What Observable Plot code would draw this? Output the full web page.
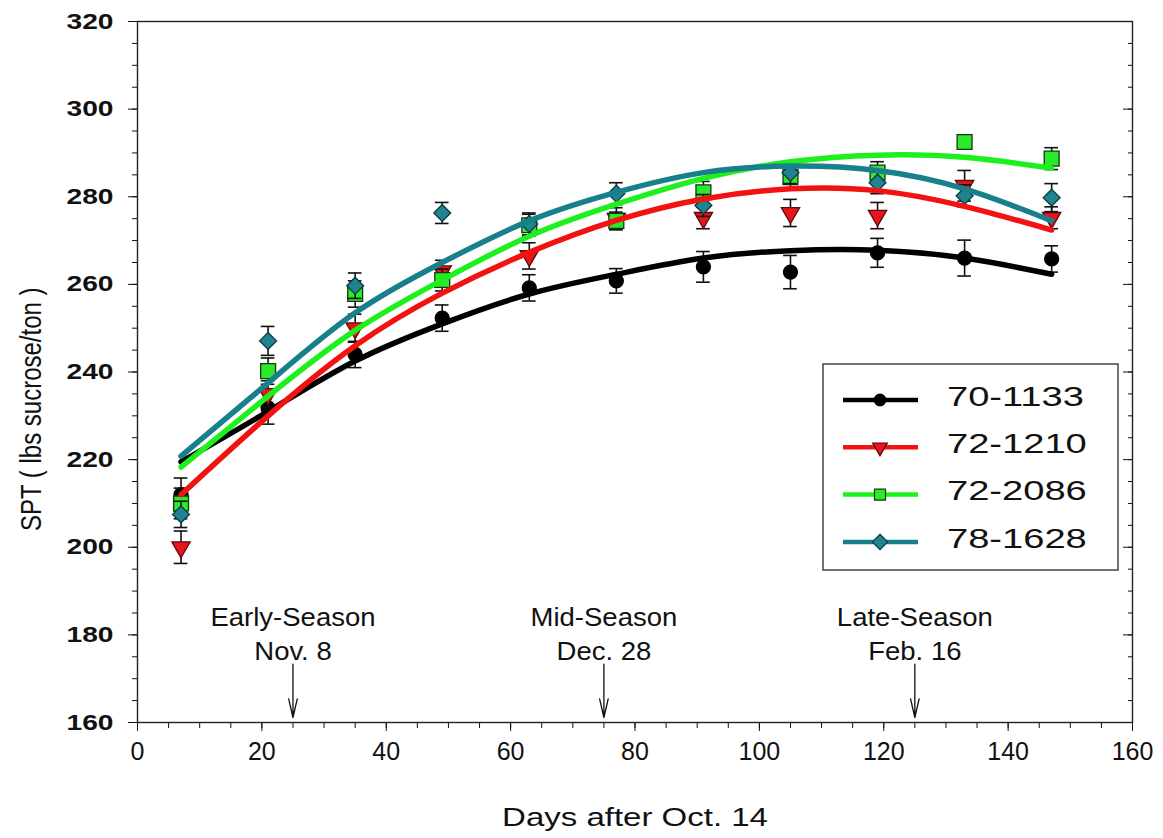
<!DOCTYPE html>
<html><head><meta charset="utf-8">
<script src="https://cdn.jsdelivr.net/npm/d3@7"></script>
<script src="https://cdn.jsdelivr.net/npm/@observablehq/plot@0.6"></script>
<style>
html,body{margin:0;padding:0;background:#fff;}
#chart{width:1163px;height:838px;}
</style></head><body><div id="chart"></div>
<script>
// ---- data ----
const days = [7, 21, 35, 49, 63, 77, 91, 105, 119, 133, 147];
const seriesNames = ["70-1133", "72-1210", "72-2086", "78-1628"];

const mean_70_1133 = [212, 231.8, 244, 252.3, 259.2, 260.8, 264, 262.8, 267.2, 266, 265.8];
const err_70_1133  = [3.8, 3.7, 3, 3, 3, 2.8, 3.5, 3.8, 3.3, 4.1, 3];
const mean_72_1210 = [200, 235, 250, 263, 266.5, 275, 275.2, 276.3, 275.7, 282.5, 275.2];
const err_72_1210  = [3.7, 3, 3.2, 2.5, 3, 2.5, 2.5, 3.1, 3, 3.5, 2.5];
const mean_72_2086 = [210, 240.2, 257.8, 261, 273.5, 274.5, 281, 284.5, 285.5, 292.5, 288.7];
const err_72_2086  = [3.5, 3, 3, 2.5, 2.5, 2, 2.5, 2.5, 2.5, 1.5, 2.5];
const mean_78_1628 = [207.5, 247.1, 259.7, 276.3, 273.8, 280.7, 278, 285.5, 283.2, 280.2, 279.8];
const err_78_1628  = [3, 3.3, 2.9, 2.4, 2.5, 2.5, 2.5, 2.5, 2.5, 2.5, 3.2];

// fitted curves, read at the same days
const fit_70_1133 = [219.5, 231, 242.5, 251, 257.8, 262.3, 266, 267.7, 267.8, 266, 262.3];
const fit_72_1210 = [212, 230, 246, 258, 267.3, 274.6, 279.5, 281.8, 281.4, 277.8, 272.4];
const fit_72_2086 = [218.3, 234.5, 249.5, 261, 271, 278.3, 284.2, 288, 289.5, 289, 286.5];
const fit_78_1628 = [220.8, 237.5, 253.5, 265, 274.5, 281, 285.5, 287, 286, 281.8, 274.5];

const xMajor = [0, 20, 40, 60, 80, 100, 120, 140, 160];
const yMajor = [160, 180, 200, 220, 240, 260, 280, 300, 320];

const seasonDays = [25, 75, 125];
const seasonNames = ["Early-Season", "Mid-Season", "Late-Season"];
const seasonDates = ["Nov. 8", "Dec. 28", "Feb. 16"];
const arrowTop = 173.3;

const xTitle = "Days after Oct. 14";
const yTitle = "SPT ( lbs sucrose/ton )";
const yTitleAt = 231.5;

// ---- styling ----
const FONT = "'Liberation Sans', Arial, Helvetica, sans-serif";
const lineColors = ["#000000", "#f21212", "#1ef01e", "#17808b"];
const markFill   = ["#000000", "#e8141a", "#2de82d", "#1f8490"];
const markStroke = ["#000000", "#5a0a0a", "#0e3a0e", "#0b3a40"];
const symbols    = ["circle", "triangle", "square", "diamond2"];
const symR       = [7, 6.8, 8.4, 7.6];
const symRot     = [0, 180, 0, 0];

const means = [mean_70_1133, mean_72_1210, mean_72_2086, mean_78_1628];
const errs  = [err_70_1133, err_72_1210, err_72_2086, err_78_1628];
const fits  = [fit_70_1133, fit_72_1210, fit_72_2086, fit_78_1628];

const pts = seriesNames.map((s, k) => days.map((d, i) => ({series: s, day: d, mean: means[k][i], err: errs[k][i]})));
const fitRows = seriesNames.map((s, k) => days.map((d, i) => ({series: s, day: d, v: fits[k][i]})));
const seasons = seasonDays.map((d, i) => ({day: d, name: seasonNames[i], date: seasonDates[i]}));

const capHalf = 1.1;
const marks = [];

// axes
marks.push(Plot.axisY({ticks: yMajor, tickSize: 9, tickPadding: 15, fontSize: 22, fontWeight: "bold", label: null}));
marks.push(Plot.axisY({ticks: d3.range(160, 321, 5), tickSize: 5, tickFormat: () => "", label: null}));
marks.push(Plot.axisY({anchor: "right", ticks: yMajor, tickSize: -10, tickFormat: () => "", label: null}));
marks.push(Plot.axisY({anchor: "right", ticks: d3.range(160, 321, 5), tickSize: -5, tickFormat: () => "", label: null}));
marks.push(Plot.axisX({ticks: xMajor, tickSize: 9, tickPadding: 11, fontSize: 25, label: null}));
marks.push(Plot.axisX({ticks: d3.range(0, 161, 5), tickSize: 6, tickFormat: () => "", label: null}));
marks.push(Plot.frame({stroke: "#222", strokeWidth: 1.4}));

// points with error bars
pts.forEach((data, k) => {
  marks.push(Plot.ruleX(data, {x: "day", y1: d => d.mean - d.err, y2: d => d.mean + d.err, stroke: "#111", strokeWidth: 1.6}));
  marks.push(Plot.ruleY(data, {y: d => d.mean + d.err, x1: d => d.day - capHalf, x2: d => d.day + capHalf, stroke: "#111", strokeWidth: 1.6}));
  marks.push(Plot.ruleY(data, {y: d => d.mean - d.err, x1: d => d.day - capHalf, x2: d => d.day + capHalf, stroke: "#111", strokeWidth: 1.6}));
  marks.push(Plot.dot(data, {x: "day", y: "mean", symbol: symbols[k], r: symR[k], rotate: symRot[k], fill: markFill[k], stroke: markStroke[k], strokeWidth: 1.3}));
});
// fitted curves
fitRows.forEach((data, k) => {
  marks.push(Plot.line(data, {x: "day", y: "v", curve: "natural", stroke: lineColors[k], strokeWidth: 5.5}));
});

// season annotations
marks.push(Plot.text(seasons, {x: "day", text: "name", frameAnchor: "bottom", lineAnchor: "middle", textAnchor: "middle", dy: -105, fontSize: 25, fill: "#111"}));
marks.push(Plot.text(seasons, {x: "day", text: "date", frameAnchor: "bottom", lineAnchor: "middle", textAnchor: "middle", dy: -71, fontSize: 25, fill: "#111"}));
marks.push(Plot.arrow(seasons, {x1: "day", x2: "day", y1: () => arrowTop, y2: () => 160, insetEnd: 5, headLength: 22, headAngle: 26, stroke: "#111", strokeWidth: 1.3}));

// axis titles
marks.push(Plot.text([xTitle], {frameAnchor: "bottom", lineAnchor: "middle", textAnchor: "middle", dy: 95, fontSize: 25, fill: "#111"}));
marks.push(Plot.text([yTitle], {frameAnchor: "left", y: () => yTitleAt, textAnchor: "middle", lineAnchor: "middle", dx: -106, rotate: -90, fontSize: 24, fill: "#111"}));

const chart = Plot.plot({
  width: 1163, height: 838,
  marginLeft: 137, marginRight: 31, marginTop: 21, marginBottom: 116,
  x: {domain: [0, 160]},
  y: {domain: [160, 320]},
  style: {fontFamily: FONT, background: "#fff", color: "#111", overflow: "visible"},
  marks
});
document.getElementById("chart").appendChild(chart);

// ---- legend ----
const svg = d3.select(chart);
const lg = svg.append("g").attr("class", "legend");
lg.append("rect").attr("x", 823).attr("y", 364).attr("width", 295).attr("height", 206)
  .attr("fill", "#fff").attr("stroke", "#444").attr("stroke-width", 1.5);
const d3Sym = [d3.symbolCircle, d3.symbolTriangle, d3.symbolSquare, d3.symbolDiamond2];
const legSize = [Math.PI * 5.8 * 5.8, 95, 121, 150];
seriesNames.forEach((name, k) => {
  const y = 400 + k * 47.3;
  lg.append("line").attr("x1", 843).attr("x2", 918).attr("y1", y).attr("y2", y)
    .attr("stroke", lineColors[k]).attr("stroke-width", 4.5);
  lg.append("path").attr("d", d3.symbol(d3Sym[k], legSize[k])())
    .attr("transform", `translate(880,${y}) rotate(${symRot[k]})`)
    .attr("fill", markFill[k]).attr("stroke", markStroke[k]).attr("stroke-width", 1.2);
  lg.append("text").attr("x", 947).attr("y", y - 4).attr("font-size", 28)
    .attr("font-family", FONT).attr("fill", "#111").attr("text-anchor", "start")
    .attr("dy", "0.35em").text(name);
});

// ---- mimic the horizontally stretched lettering of the reference ----
function stretch(el, f) {
  const L = el.getComputedTextLength();
  if (L > 0) { el.setAttribute("textLength", (L * f).toFixed(1)); el.setAttribute("lengthAdjust", "spacingAndGlyphs"); }
}
chart.querySelectorAll("text").forEach(t => {
  const s = t.textContent;
  const g = t.closest("g[aria-label]");
  const al = g ? g.getAttribute("aria-label") : "";
  if (al === "y-axis tick label") stretch(t, 1.28);
  else if (seasonNames.includes(s) || seasonDates.includes(s)) stretch(t, 1.1);
  else if (s === xTitle) stretch(t, 1.32);
  else if (seriesNames.includes(s)) stretch(t, 1.36);
  else if (s === yTitle) {
    const tr = t.getAttribute("transform");
    if (tr && tr.includes("rotate")) t.setAttribute("transform", tr + " scale(1,1.25)");
  }
});
</script></body></html>
